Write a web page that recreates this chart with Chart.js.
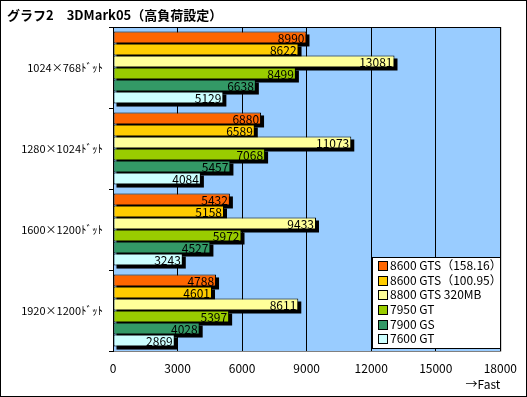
<!DOCTYPE html>
<html>
<head>
<meta charset="utf-8">
<script src="https://cdn.jsdelivr.net/npm/chart.js@4/dist/chart.umd.min.js"></script>
<style>
  body { margin: 0; background: #fff; }
  #wrap { position: relative; width: 527px; height: 397px; }
  #frame { position: absolute; left: 0; top: 0; width: 525px; height: 395px; border: 1px solid #000; pointer-events: none; }
  #title { position: absolute; left: 7px; top: 5px; font: bold 13px "Noto Sans CJK JP", sans-serif; color: #000; white-space: pre; }
  #legend { position: absolute; left: 372px; top: 257px; width: 127px; height: 90px; background: #fff; border: 1px solid #000; font: 12px "Noto Sans CJK JP", sans-serif; }
  #legend div { height: 14.7px; line-height: 14.7px; padding-left: 5px; white-space: nowrap; }
  #legend span { display: inline-block; width: 8px; height: 8px; border: 1px solid #000; margin-right: 2px; vertical-align: -1px; }
</style>
</head>
<body>
<div id="wrap">
  <canvas id="chart" width="527" height="397"></canvas>
  <div id="title">グラフ2　3DMark05（高負荷設定）</div>
  <div id="legend"></div>
  <div id="frame"></div>
</div>
<script>
var resolutions = ['1024×768ﾄﾞｯﾄ', '1280×1024ﾄﾞｯﾄ', '1600×1200ﾄﾞｯﾄ', '1920×1200ﾄﾞｯﾄ'];
var cards = ['8600 GTS（158.16）', '8600 GTS（100.95）', '8800 GTS 320MB', '7950 GT', '7900 GS', '7600 GT'];
var colors = ['#ff6600', '#ffcc00', '#ffff99', '#99cc00', '#339966', '#ccffff'];

var gts158 = [8990, 6880, 5432, 4788];
var gts100 = [8622, 6589, 5158, 4601];
var gts320 = [13081, 11073, 9433, 8611];
var gt7950 = [8499, 7068, 5972, 5397];
var gs7900 = [6638, 5457, 4527, 4028];
var gt7600 = [5129, 4084, 3243, 2869];
var allScores = [gts158, gts100, gts320, gt7950, gs7900, gt7600];

var legendBox = document.getElementById('legend');
for (var i in cards) {
  var row = document.createElement('div');
  row.innerHTML = '<span style="background:' + colors[i] + '"></span>' + cards[i];
  legendBox.appendChild(row);
}

var plotBack = {
  id: 'plotBack',
  beforeDraw: function(chart) {
    var a = chart.chartArea, c = chart.ctx;
    c.save();
    c.fillStyle = '#99ccff';
    c.fillRect(a.left, a.top, a.right - a.left, a.bottom - a.top);
    c.strokeStyle = '#808080';
    c.lineWidth = 1;
    c.beginPath();
    c.moveTo(a.right + 0.5, a.top);
    c.lineTo(a.right + 0.5, a.bottom + 0.5);
    c.lineTo(a.left, a.bottom + 0.5);
    c.stroke();
    c.strokeStyle = '#000';
    c.beginPath();
    c.moveTo(a.left, a.top + 0.5);
    c.lineTo(a.right, a.top + 0.5);
    c.stroke();
    c.restore();
  }
};

// black drop shadow under every bar, drawn before the bars themselves
var barShadow = {
  id: 'barShadow',
  beforeDatasetsDraw: function(chart) {
    var c = chart.ctx;
    c.save();
    c.fillStyle = '#000';
    chart.data.datasets.forEach(function(ds, d) {
      chart.getDatasetMeta(d).data.forEach(function(bar) {
        var p = bar.getProps(['x', 'y', 'base', 'height'], true);
        c.fillRect(p.base + 3, p.y - p.height / 2 + 3, p.x - p.base, p.height);
      });
    });
    c.restore();
  }
};

var valueLabels = {
  id: 'valueLabels',
  afterDatasetsDraw: function(chart) {
    var c = chart.ctx;
    c.save();
    c.font = '12px "Noto Sans CJK JP", sans-serif';
    c.fillStyle = '#000';
    c.textAlign = 'right';
    c.textBaseline = 'middle';
    chart.data.datasets.forEach(function(ds, d) {
      chart.getDatasetMeta(d).data.forEach(function(bar, j) {
        c.fillText(ds.data[j], bar.x - 2, bar.y + 1);
      });
    });
    c.restore();
  }
};

var datasets = [];
for (var k in cards) {
  datasets.push({
    label: cards[k],
    data: allScores[k],
    backgroundColor: colors[k],
    borderColor: '#000',
    borderWidth: 1,
    borderSkipped: false,
    barPercentage: 1,
    categoryPercentage: 0.89
  });
}

var ctx = document.getElementById('chart');
var chart = new Chart(ctx, {
  type: 'bar',
  data: { labels: resolutions, datasets: datasets },
  plugins: [plotBack, barShadow, valueLabels],
  options: {
    indexAxis: 'y',
    responsive: false,
    animation: false,
    layout: { padding: { top: 27, right: 24, left: 0, bottom: 0 } },
    plugins: { legend: { display: false }, tooltip: { enabled: false } },
    scales: {
      x: {
        min: 0, max: 18000,
        afterFit: function(s) { s.height = 46; },
        ticks: {
          stepSize: 3000, color: '#000', padding: 10,
          font: { size: 12, family: '"Noto Sans CJK JP", sans-serif' },
          callback: function(v) { return String(v); }
        },
        grid: { color: '#000', drawTicks: false },
        border: { display: false },
        title: { display: true, text: '→Fast', align: 'end', color: '#000', padding: { top: 0, bottom: 5 }, font: { size: 12, family: '"Noto Sans CJK JP", sans-serif' } }
      },
      y: {
        afterFit: function(s) { s.width = 113; },
        ticks: { color: '#000', padding: 6, font: { size: 11, family: '"Noto Sans CJK JP", sans-serif' } },
        grid: { offset: true, drawOnChartArea: false, tickLength: 4, color: '#000' },
        border: { display: true, color: '#000' }
      }
    }
  }
});
</script>
</body>
</html>
